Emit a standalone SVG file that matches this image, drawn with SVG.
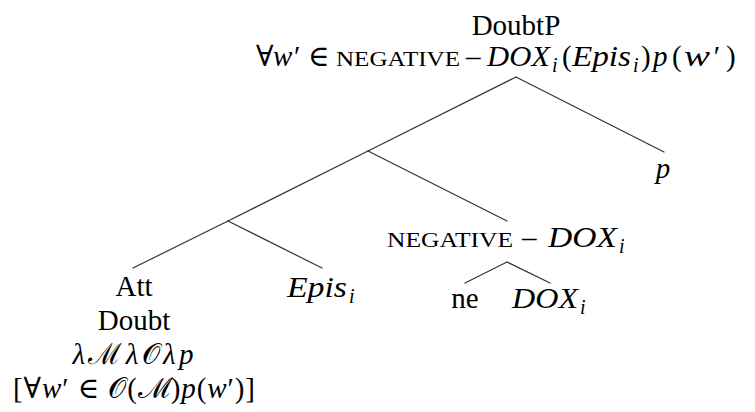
<svg xmlns="http://www.w3.org/2000/svg" width="755" height="412" viewBox="0 0 755 412">
<style>
.t{font-family:"Liberation Serif","DejaVu Serif",serif;font-size:29px;fill:#000}
.i{font-style:italic}
.sc{font-size:21px}
.sub{font-size:20px;font-style:italic}
.e{stroke:#333;stroke-width:1.2;fill:none;stroke-linecap:round}
</style>
<rect width="755" height="412" fill="#fff"/>
<g id="connectors">
<line class="e" x1="516" y1="77" x2="368" y2="151"/>
<line class="e" x1="516" y1="77" x2="664" y2="152"/>
<line class="e" x1="368" y1="151" x2="228" y2="221"/>
<line class="e" x1="368" y1="151" x2="507" y2="221"/>
<line class="e" x1="228" y1="221" x2="133" y2="268"/>
<line class="e" x1="228" y1="221" x2="322" y2="268"/>
<line class="e" x1="507" y1="262" x2="465" y2="283"/>
<line class="e" x1="507" y1="262" x2="550" y2="283"/>
</g>
<g id="node-doubtp">
<text class="t" x="516" y="35" text-anchor="middle">DoubtP</text>
<text class="t" x="256" y="66">∀</text>
<text class="t i" x="273" y="66">w′</text>
<text class="t" x="308" y="66">∈</text>
<text class="t sc" x="336" y="66" textLength="124" lengthAdjust="spacingAndGlyphs">NEGATIVE</text>
<text class="t" x="466" y="66">–</text>
<text class="t i" x="487" y="66" textLength="63" lengthAdjust="spacingAndGlyphs">DOX</text>
<text class="t sub" x="552" y="72">i</text>
<text class="t" x="562" y="66">(</text>
<text class="t i" x="572" y="66" textLength="59" lengthAdjust="spacingAndGlyphs">Epis</text>
<text class="t sub" x="633" y="72">i</text>
<text class="t" x="641" y="66">)</text>
<text class="t i" x="653" y="66">p</text>
<text class="t" x="672" y="66">(</text>
<text class="t i" x="684" y="66" textLength="26" lengthAdjust="spacingAndGlyphs">w</text>
<text class="t i" x="712" y="66">′</text>
<text class="t" x="726" y="66">)</text>
</g>
<g id="node-j1"></g>
<g id="node-j2"></g>
<g id="node-p">
<text class="t i" x="663" y="178" text-anchor="middle">p</text>
</g>
<g id="node-negdox">
<text class="t sc" x="387" y="247" textLength="126" lengthAdjust="spacingAndGlyphs">NEGATIVE</text>
<text class="t" x="522" y="247">–</text>
<text class="t i" x="548" y="247" textLength="69" lengthAdjust="spacingAndGlyphs">DOX</text>
<text class="t sub" x="619" y="253">i</text>
</g>
<g id="node-ne">
<text class="t" x="465" y="308" text-anchor="middle">ne</text>
</g>
<g id="node-dox">
<text class="t i" x="512" y="308" textLength="66" lengthAdjust="spacingAndGlyphs">DOX</text>
<text class="t sub" x="580" y="314">i</text>
</g>
<g id="node-att">
<text class="t" x="134" y="296" text-anchor="middle">Att</text>
<text class="t" x="134" y="330" text-anchor="middle">Doubt</text>
<text class="t" x="133" y="364" text-anchor="middle" textLength="121" lengthAdjust="spacing"><tspan class="i">λ</tspan>ℳ<tspan class="i">λ</tspan>𝒪<tspan class="i">λp</tspan></text>
<text class="t" x="134" y="398" text-anchor="middle" textLength="242" lengthAdjust="spacing">[∀<tspan class="i">w</tspan>′ ∈ 𝒪(ℳ)<tspan class="i">p</tspan>(<tspan class="i">w</tspan>′)]</text>
</g>
<g id="node-epis">
<text class="t i" x="287" y="297" textLength="60" lengthAdjust="spacingAndGlyphs">Epis</text>
<text class="t sub" x="349" y="303">i</text>
</g>
</svg>
